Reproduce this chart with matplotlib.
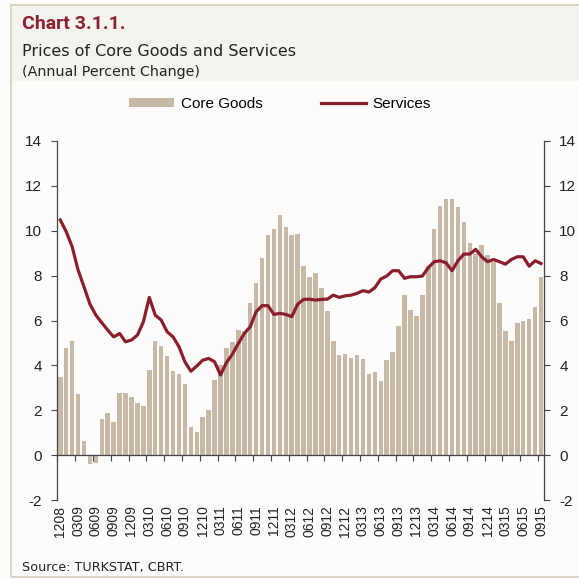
import matplotlib
matplotlib.use("Agg")
import matplotlib.pyplot as plt
from matplotlib.patches import Rectangle, Patch
from matplotlib.lines import Line2D
import numpy as np

plt.rcParams["axes.unicode_minus"] = False

# ---- data (annual % change, Dec 2008 .. Sep 2015, monthly) ---------------
core_goods = [
    3.49, 4.78, 5.07, 2.73, 0.62, -0.40, -0.33, 1.59, 1.89, 1.47,
    2.79, 2.79, 2.59, 2.32, 2.20, 3.81, 5.08, 4.86, 4.40, 3.74,
    3.63, 3.19, 1.26, 1.04, 1.72, 2.01, 3.34, 4.01, 4.77, 5.05,
    5.57, 5.52, 6.78, 7.65, 8.78, 9.81, 10.09, 10.71, 10.15, 9.82,
    9.85, 8.42, 7.93, 8.11, 7.43, 6.42, 5.10, 4.46, 4.50, 4.32,
    4.46, 4.29, 3.63, 3.69, 3.30, 4.23, 4.59, 5.77, 7.12, 6.49,
    6.21, 7.13, 8.42, 10.06, 11.11, 11.41, 11.43, 11.04, 10.39, 9.44,
    8.96, 9.36, 8.90, 8.62, 6.79, 5.54, 5.07, 5.87, 5.96, 6.05,
    6.58, 7.95,
]
services = [
    10.48, 9.96, 9.29, 8.25, 7.50, 6.73, 6.24, 5.90, 5.57, 5.27,
    5.42, 5.05, 5.13, 5.35, 5.94, 7.03, 6.24, 6.02, 5.50, 5.27,
    4.83, 4.16, 3.74, 3.97, 4.23, 4.31, 4.16, 3.57, 4.12, 4.50,
    4.98, 5.42, 5.72, 6.39, 6.66, 6.66, 6.27, 6.32, 6.27, 6.17,
    6.73, 6.94, 6.95, 6.91, 6.94, 6.95, 7.13, 7.03, 7.10, 7.13,
    7.21, 7.33, 7.27, 7.46, 7.85, 7.98, 8.22, 8.22, 7.88, 7.95,
    7.95, 7.98, 8.35, 8.62, 8.66, 8.57, 8.22, 8.66, 8.96, 8.96,
    9.17, 8.84, 8.62, 8.72, 8.62, 8.51, 8.72, 8.84, 8.84, 8.42,
    8.66, 8.54,
]
# month labels as MMYY, every third month shown
months = [f"{(11 + i) % 12 + 1:02d}{(8 + (11 + i) // 12) % 100:02d}"
          for i in range(len(core_goods))]
yticks = list(range(-2, 15, 2))

# ---- style ---------------------------------------------------------------
BAR   = "#C8B9A7"
LINE  = "#8B1E2D"
TITLE = "#8B2232"
TEXT  = "#222222"
AXIS  = "#444444"
BAND  = "#F5F3EE"
BG    = "#FDFCFA"
FRAME = "#D9CCB8"
ARIAL = ["Liberation Sans", "DejaVu Sans"]
HEAD  = ["Roboto", "DejaVu Sans"]

fig = plt.figure(figsize=(5.79, 5.79), dpi=100)
fig.patch.set_facecolor(BG)

# title band and outer frame
fig.patches.append(Rectangle((11 / 579, 1 - 81 / 579), 1, 76 / 579,
                             transform=fig.transFigure, facecolor=BAND,
                             edgecolor="none", zorder=0))
fig.patches.append(Rectangle((11 / 579, 2 / 579), 1.2, 1 - 7 / 579,
                             transform=fig.transFigure, facecolor="none",
                             edgecolor=FRAME, linewidth=1.2, zorder=1))

fig.text(22 / 579, 1 - 24 / 579, "Chart 3.1.1.", fontsize=14, fontweight="bold",
         color=TITLE, va="center", ha="left", family=HEAD)
fig.text(22 / 579, 1 - 51 / 579, "Prices of Core Goods and Services",
         fontsize=11.5, color=TEXT, va="center", ha="left")
fig.text(22 / 579, 1 - 72 / 579, "(Annual Percent Change)",
         fontsize=10.3, color=TEXT, va="center", ha="left")
fig.text(22 / 579, 1 - 567 / 579, "Source: TURKSTAT, CBRT.",
         fontsize=9.2, color=TEXT, va="center", ha="left")

ax = fig.add_axes([57.3 / 579, 1 - 500 / 579, (544 - 57.3) / 579, 359 / 579])
ax.set_facecolor("none")

x = np.arange(len(core_goods))
ax.bar(x, core_goods, width=0.76, color=BAR, zorder=2)
ax.plot(x, services, color=LINE, linewidth=2.3, solid_joinstyle="round", zorder=3)

ax.set_xlim(-0.5, len(x) - 0.5)
ax.set_ylim(-2, 14)

# y axes on both sides
ax.set_yticks(yticks)
ax.tick_params(axis="y", which="both", left=True, right=True, labelleft=True,
               labelright=True, direction="out", length=4, width=0.8,
               color=AXIS, labelsize=11, labelcolor=TEXT, pad=7)
for lab in ax.get_yticklabels():
    lab.set_family(ARIAL)
for s in ("left", "right"):
    ax.spines[s].set_color(AXIS)
    ax.spines[s].set_linewidth(0.9)
ax.spines["top"].set_visible(False)

# zero line carries the tick marks (category boundaries every 3 months)
ax.spines["bottom"].set_position(("data", 0))
ax.spines["bottom"].set_color(AXIS)
ax.spines["bottom"].set_linewidth(0.9)
ax.set_xticks(np.arange(-0.5, len(x), 3))
ax.tick_params(axis="x", direction="out", length=4, width=0.8, color=AXIS,
               labelbottom=False)

# labels at the foot of the plot
sec = ax.secondary_xaxis("bottom")
sec.spines["bottom"].set_visible(False)
sec.set_xticks(x[::3])
sec.set_xticklabels(months[::3], rotation=90, fontsize=10, color=TEXT,
                    family=ARIAL)
sec.tick_params(axis="x", length=0, pad=4)

# legend
handles = [
    Patch(facecolor=BAR, edgecolor="none", label="Core Goods"),
    Line2D([0], [0], color=LINE, linewidth=2.3, label="Services"),
]
leg = fig.legend(handles=handles, loc="center", ncol=2, frameon=False,
                 bbox_to_anchor=(280 / 579, 1 - 104 / 579),
                 handlelength=2.95, handleheight=0.5, handletextpad=0.45,
                 columnspacing=3.8, prop={"family": ARIAL, "size": 11})

fig.savefig("out.png", dpi=100, facecolor=fig.get_facecolor())
